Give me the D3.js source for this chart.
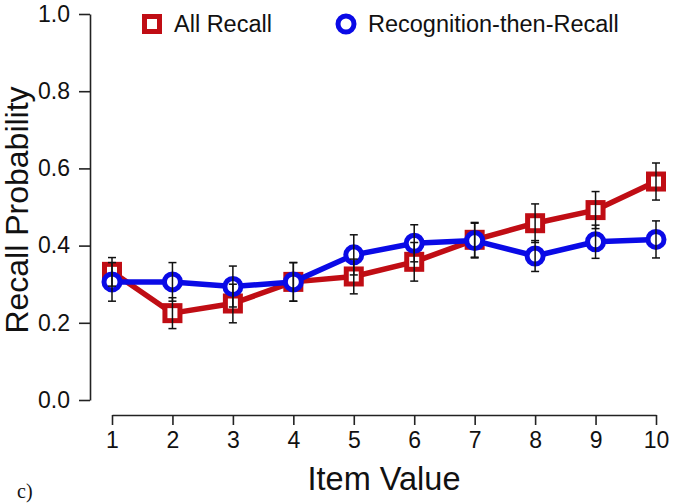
<!DOCTYPE html>
<html>
<head>
<meta charset="utf-8">
<script src="https://cdn.jsdelivr.net/npm/d3@7"></script>
<style>
  html, body { margin: 0; padding: 0; background: #fff; }
  svg { display: block; }
</style>
</head>
<body>
<svg id="chart" width="675" height="504"></svg>
<script>
// data
const items = [1, 2, 3, 4, 5, 6, 7, 8, 9, 10];
const allRecall    = [0.332, 0.225, 0.250, 0.306, 0.320, 0.358, 0.415, 0.458, 0.492, 0.566];
const allRecallErr = [0.037, 0.040, 0.050, 0.050, 0.045, 0.050, 0.045, 0.050, 0.048, 0.048];
const recogRecall    = [0.306, 0.306, 0.294, 0.306, 0.376, 0.406, 0.413, 0.373, 0.410, 0.416];
const recogRecallErr = [0.050, 0.050, 0.053, 0.050, 0.052, 0.048, 0.045, 0.040, 0.043, 0.048];
const yTicks = [0, 0.2, 0.4, 0.6, 0.8, 1.0];
const seriesNames = ["All Recall", "Recognition-then-Recall"];

const RED = "#c00d14", BLUE = "#0a0ae6", AXIS = "#222";
const FONT = "'Liberation Sans', Arial, sans-serif";

const svg = d3.select("#chart");
const x = d3.scaleLinear().domain([1, 10]).range([112, 656]);
const y = d3.scaleLinear().domain([0, 1]).range([400, 14]);

// axes
const yAxis = svg.append("g")
  .attr("transform", "translate(90,0)")
  .call(d3.axisLeft(y).tickValues(yTicks).tickFormat(d3.format(".1f")).tickSize(11).tickSizeOuter(0).tickPadding(9));
const xAxis = svg.append("g")
  .attr("transform", "translate(0,415)")
  .call(d3.axisBottom(x).tickValues(items).tickFormat(d3.format("d")).tickSize(10).tickSizeOuter(0).tickPadding(7));

[yAxis, xAxis].forEach(a => {
  a.select(".domain").attr("stroke", AXIS).attr("stroke-width", 1.6);
  a.selectAll(".tick line").attr("stroke", AXIS).attr("stroke-width", 1.6);
  a.selectAll(".tick text").attr("fill", "#111").attr("font-family", FONT).attr("font-size", "23px");
});

// axis titles
svg.append("text")
  .attr("x", (x.range()[0] + x.range()[1]) / 2).attr("y", 490)
  .attr("text-anchor", "middle")
  .attr("font-family", FONT).attr("font-size", "32.5px").attr("fill", "#111")
  .text("Item Value");
svg.append("text")
  .attr("transform", `translate(28,${(y.range()[0] + y.range()[1]) / 2 + 3}) rotate(-90)`)
  .attr("text-anchor", "middle")
  .attr("font-family", FONT).attr("font-size", "32px").attr("fill", "#111")
  .text("Recall Probability");

// panel letter
svg.append("text")
  .attr("x", 17).attr("y", 498)
  .attr("font-family", "'Liberation Serif', 'Times New Roman', serif")
  .attr("font-size", "20px").attr("fill", "#111")
  .text("c)");

const line = d3.line().x((d, i) => x(items[i])).y(d => y(d));

// series lines + markers
svg.append("path").datum(allRecall)
  .attr("d", line).attr("fill", "none")
  .attr("stroke", RED).attr("stroke-width", 5.5).attr("stroke-linejoin", "round");
svg.selectAll(".sq").data(allRecall).join("rect")
  .attr("class", "sq")
  .attr("x", (d, i) => x(items[i]) - 7.5).attr("y", d => y(d) - 7.5)
  .attr("width", 15).attr("height", 15)
  .attr("fill", "#fff").attr("stroke", RED).attr("stroke-width", 5);

svg.append("path").datum(recogRecall)
  .attr("d", line).attr("fill", "none")
  .attr("stroke", BLUE).attr("stroke-width", 5.5).attr("stroke-linejoin", "round");
svg.selectAll(".ci").data(recogRecall).join("circle")
  .attr("class", "ci")
  .attr("cx", (d, i) => x(items[i])).attr("cy", d => y(d))
  .attr("r", 8)
  .attr("fill", "#fff").attr("stroke", BLUE).attr("stroke-width", 5);

// error bars on top
function errorBars(vals, errs, cls) {
  const g = svg.append("g").attr("stroke", "#111").attr("stroke-width", 1.5);
  const bars = g.selectAll("." + cls).data(vals).join("g").attr("class", cls);
  bars.append("line")
    .attr("x1", (d, i) => x(items[i])).attr("x2", (d, i) => x(items[i]))
    .attr("y1", (d, i) => y(d - errs[i])).attr("y2", (d, i) => y(d + errs[i]));
  bars.append("line")
    .attr("x1", (d, i) => x(items[i]) - 4).attr("x2", (d, i) => x(items[i]) + 4)
    .attr("y1", (d, i) => y(d + errs[i])).attr("y2", (d, i) => y(d + errs[i]));
  bars.append("line")
    .attr("x1", (d, i) => x(items[i]) - 4).attr("x2", (d, i) => x(items[i]) + 4)
    .attr("y1", (d, i) => y(d - errs[i])).attr("y2", (d, i) => y(d - errs[i]));
}
errorBars(allRecall, allRecallErr, "ebr");
errorBars(recogRecall, recogRecallErr, "ebb");

// legend
const leg = svg.append("g");
leg.append("rect")
  .attr("x", 152 - 7.5).attr("y", 24 - 7.5).attr("width", 15).attr("height", 15)
  .attr("fill", "#fff").attr("stroke", RED).attr("stroke-width", 5);
leg.append("text")
  .attr("x", 174).attr("y", 32)
  .attr("font-family", FONT).attr("font-size", "23.5px").attr("fill", "#111")
  .text(seriesNames[0]);
leg.append("circle")
  .attr("cx", 346).attr("cy", 24).attr("r", 8)
  .attr("fill", "#fff").attr("stroke", BLUE).attr("stroke-width", 5);
leg.append("text")
  .attr("x", 368).attr("y", 32)
  .attr("font-family", FONT).attr("font-size", "23.5px").attr("fill", "#111")
  .text(seriesNames[1]);
</script>
</body>
</html>
